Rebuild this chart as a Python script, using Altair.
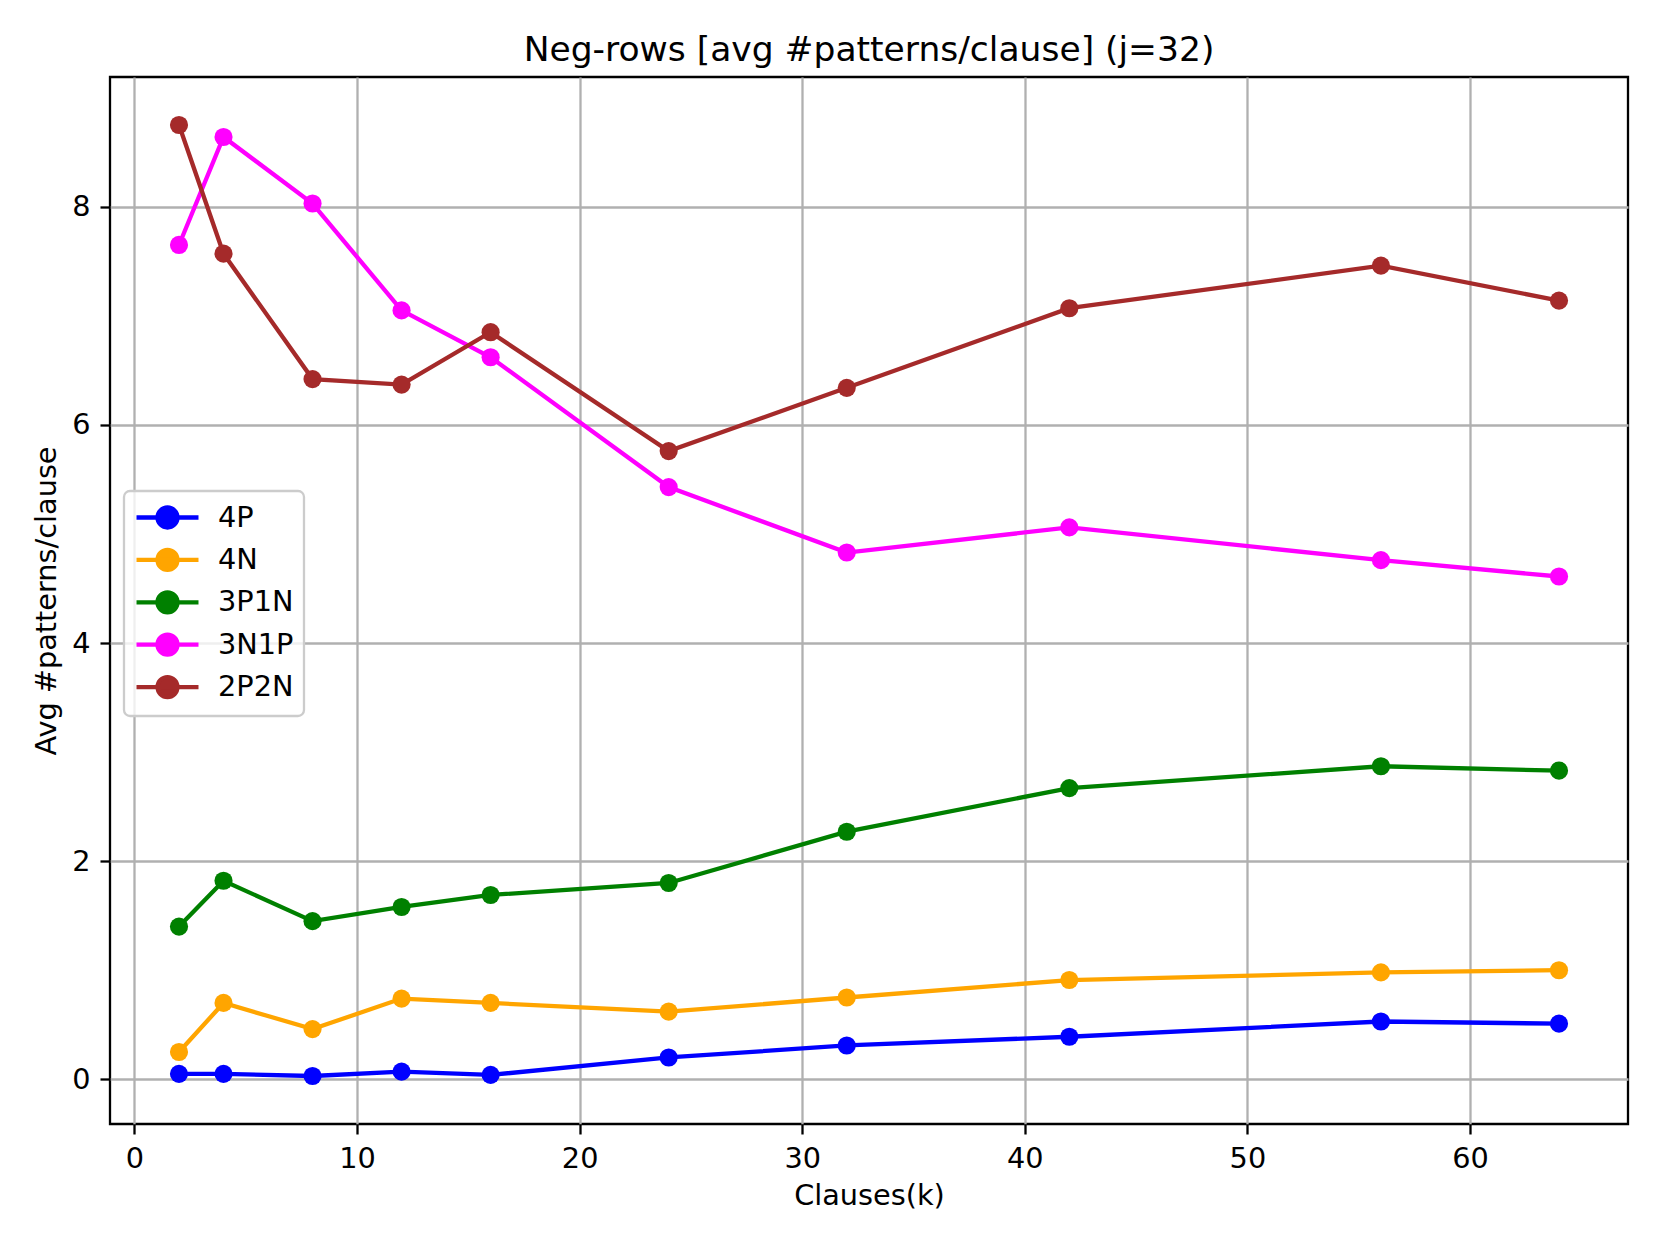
import altair as alt
import pandas as pd

# ---- data ----
clauses = [2, 4, 8, 12, 16, 24, 32, 42, 56, 64]
series_names = ["4P", "4N", "3P1N", "3N1P", "2P2N"]
series_colors = ["#0000ff", "#ffa500", "#008000", "#ff00ff", "#a52a2a"]
v_4P = [0.05, 0.05, 0.03, 0.07, 0.04, 0.20, 0.31, 0.39, 0.53, 0.51]
v_4N = [0.25, 0.70, 0.46, 0.74, 0.70, 0.62, 0.75, 0.91, 0.98, 1.00]
v_3P1N = [1.40, 1.82, 1.45, 1.58, 1.69, 1.80, 2.27, 2.67, 2.87, 2.83]
v_3N1P = [7.65, 8.64, 8.03, 7.05, 6.62, 5.43, 4.83, 5.06, 4.76, 4.61]
v_2P2N = [8.75, 7.57, 6.42, 6.37, 6.85, 5.76, 6.34, 7.07, 7.46, 7.14]
x_ticks = [0, 10, 20, 30, 40, 50, 60]
y_ticks = [0, 2, 4, 6, 8]

values = [v_4P, v_4N, v_3P1N, v_3N1P, v_2P2N]
rows = []
for name, vals in zip(series_names, values):
    for k, v in zip(clauses, vals):
        rows.append({"k": k, "value": v, "series": name})
df = pd.DataFrame(rows)

FONT = "DejaVu Sans"
FS = 28.75
scale_c = alt.Scale(domain=series_names, range=series_colors)
x_enc = alt.X("k:Q", title="Clauses(k)",
              scale=alt.Scale(domain=[-1.1, 67.1], nice=False, zero=False),
              axis=alt.Axis(values=x_ticks, format="d"))
y_enc = alt.Y("value:Q", title="Avg #patterns/clause",
              scale=alt.Scale(domain=[-0.41, 9.19], nice=False, zero=False),
              axis=alt.Axis(values=y_ticks, format="d"))

# line with a dot, drawn in a unit box of half-size 14 px
legend_symbol = ("M-2.214,0L2.214,0M0.714,0A0.714,0.714,0,1,1,-0.714,0"
                 "A0.714,0.714,0,1,1,0.714,0Z")
leg = alt.Legend(title=None, orient="none", legendX=14, legendY=414,
                 symbolType=legend_symbol)

lines = alt.Chart(df).mark_line(strokeWidth=4.3).encode(
    x=x_enc, y=y_enc,
    stroke=alt.Stroke("series:N", scale=scale_c, sort=series_names, legend=leg),
    detail="series:N",
)
points = alt.Chart(df).mark_point(filled=True, size=330, opacity=1).encode(
    x=x_enc, y=y_enc,
    fill=alt.Fill("series:N", scale=scale_c, sort=series_names, legend=leg),
)

chart = alt.layer(lines, points).properties(
    width=1518, height=1047,
    title=alt.TitleParams("Neg-rows [avg #patterns/clause] (j=32)",
                          fontSize=34.5, font=FONT, fontWeight="normal",
                          color="black", anchor="middle", offset=-18,
                          baseline="alphabetic"),
    autosize=alt.AutoSizeParams(type="none"),
    padding={"left": 102, "top": 69, "right": 25, "bottom": 114},
).configure_view(
    stroke="black", strokeWidth=2.3
).configure_axis(
    labelFont=FONT, labelFontSize=FS, labelColor="black",
    titleFont=FONT, titleFontSize=FS, titleColor="black", titleFontWeight="normal",
    domain=False, grid=True, gridColor="#b0b0b0", gridWidth=2.3,
    tickColor="black", tickWidth=2.3, tickSize=10, labelPadding=10,
).configure_axisX(
    titlePadding=9,
).configure_axisY(
    titlePadding=10, labelPadding=10,
).configure_legend(
    labelFont=FONT, labelFontSize=FS, labelColor="black",
    fillColor="rgba(255,255,255,0.8)", strokeColor="#cccccc", strokeWidth=2.3,
    cornerRadius=6, padding=10, symbolSize=784, symbolStrokeWidth=4.3,
    symbolOffset=17, labelOffset=34, rowPadding=3.4,
)

chart.save("out.html", embed_options={"renderer": "svg", "actions": False})
